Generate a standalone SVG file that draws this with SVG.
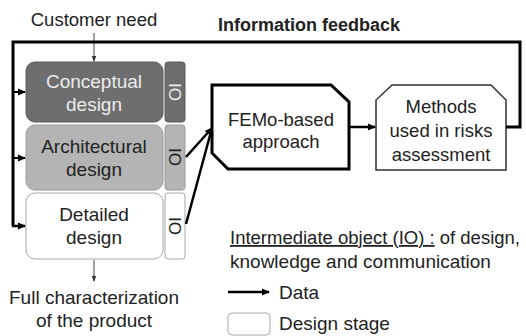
<svg xmlns="http://www.w3.org/2000/svg" width="526" height="336" viewBox="0 0 526 336">
<defs>
<marker id="ah" markerWidth="8" markerHeight="8" refX="7" refY="4" orient="auto" markerUnits="userSpaceOnUse"><path d="M0,0.5 L8,4 L0,7.5 Z" fill="#000"/></marker>
<marker id="ahs" markerWidth="6" markerHeight="6" refX="5" refY="3" orient="auto" markerUnits="userSpaceOnUse"><path d="M0,0.8 L6,3 L0,5.2 Z" fill="#333"/></marker>
<style>
text{font-family:"Liberation Sans",Arial,sans-serif;font-size:18.5px;fill:#222;}
.c{text-anchor:middle;}
.b{font-weight:bold;font-size:18px;}
.l{font-size:19px;}
.w{fill:#ececec;}
.io{font-size:17px;}
.thick{fill:none;stroke:#000;stroke-width:3;}
.thin{fill:none;stroke:#444;stroke-width:1;}
</style>
</defs>
<rect width="526" height="336" fill="#fff"/>

<g id="labels">
<text class="c" x="94" y="26">Customer need</text>
<text class="b" x="218" y="31">Information feedback</text>
<text class="c l" x="94" y="304">Full characterization</text>
<text class="c l" x="94" y="327">of the product</text>
</g>

<g id="conceptual">
<rect x="26" y="62" width="137" height="60" rx="9" fill="#6e6e6e" stroke="#5a5a5a"/>
<text class="c w l" x="94" y="88">Conceptual</text>
<text class="c w l" x="94" y="111">design</text>
</g>
<g id="io1">
<rect x="165" y="62" width="20" height="60" rx="3" fill="#6e6e6e" stroke="#5a5a5a"/>
<text class="c w io" transform="translate(175,92) rotate(90)" y="6">IO</text>
</g>
<g id="architectural">
<rect x="26" y="125" width="137" height="65" rx="9" fill="#b4b4b4" stroke="#9a9a9a"/>
<text class="c l" x="94" y="153">Architectural</text>
<text class="c l" x="94" y="176">design</text>
</g>
<g id="io2">
<rect x="165" y="125" width="20" height="65" rx="3" fill="#b4b4b4" stroke="#9a9a9a"/>
<text class="c io" transform="translate(175,157) rotate(90)" y="6">IO</text>
</g>
<g id="detailed">
<rect x="26" y="193" width="137" height="66" rx="9" fill="#fff" stroke="#a8a8a8"/>
<text class="c l" x="94" y="221">Detailed</text>
<text class="c l" x="94" y="244">design</text>
</g>
<g id="io3">
<rect x="165" y="193" width="20" height="66" rx="3" fill="#fff" stroke="#a8a8a8"/>
<text class="c io" transform="translate(175,226) rotate(90)" y="6">IO</text>
</g>

<g id="femo">
<path class="thick" d="M212,85 L331,85 L349,102 L349,169 L228,169 L212,153 Z" fill="#fff"/>
<text class="c" x="281" y="126">FEMo-based</text>
<text class="c" x="281" y="148">approach</text>
</g>
<g id="methods">
<path d="M392,85 L491,85 L506,100 L506,170 L376,170 L376,100 Z" fill="#fff" stroke="#333" stroke-width="1.5"/>
<text class="c" x="441" y="113">Methods</text>
<text class="c" x="441" y="137">used in risks</text>
<text class="c" x="441" y="161">assessment</text>
</g>

<g id="connectors">
<line class="thin" x1="94" y1="33" x2="94" y2="61" marker-end="url(#ahs)"/>
<line class="thin" x1="94" y1="260" x2="94" y2="281" marker-end="url(#ahs)"/>
<path class="thick" d="M506,127 L520,127 L520,42 L13,42 L13,226"/>
<line x1="13" y1="92" x2="25" y2="92" stroke="#000" stroke-width="2" marker-end="url(#ah)"/>
<line x1="13" y1="158" x2="25" y2="158" stroke="#000" stroke-width="2" marker-end="url(#ah)"/>
<line x1="12" y1="226" x2="25" y2="226" stroke="#000" stroke-width="2.5" marker-end="url(#ah)"/>
<line x1="186" y1="157" x2="212" y2="128" stroke="#000" stroke-width="2.5" marker-end="url(#ah)"/>
<line x1="186" y1="224" x2="212" y2="128" stroke="#000" stroke-width="2.5" marker-end="url(#ah)"/>
<line x1="349" y1="127" x2="375" y2="127" stroke="#000" stroke-width="2.5" marker-end="url(#ah)"/>
</g>

<g id="legend">
<text x="230" y="244" style="font-size:18px" textLength="290" lengthAdjust="spacingAndGlyphs"><tspan text-decoration="underline">Intermediate object (IO) :</tspan> of design,</text>
<text class="l" x="230" y="268">knowledge and communication</text>
<line x1="228" y1="292" x2="269" y2="292" stroke="#000" stroke-width="2.5" marker-end="url(#ah)"/>
<text class="l" x="279" y="299">Data</text>
<rect x="228" y="313" width="42" height="22" rx="4" fill="#fff" stroke="#a8a8a8"/>
<text class="l" x="279" y="330">Design stage</text>
</g>
</svg>
